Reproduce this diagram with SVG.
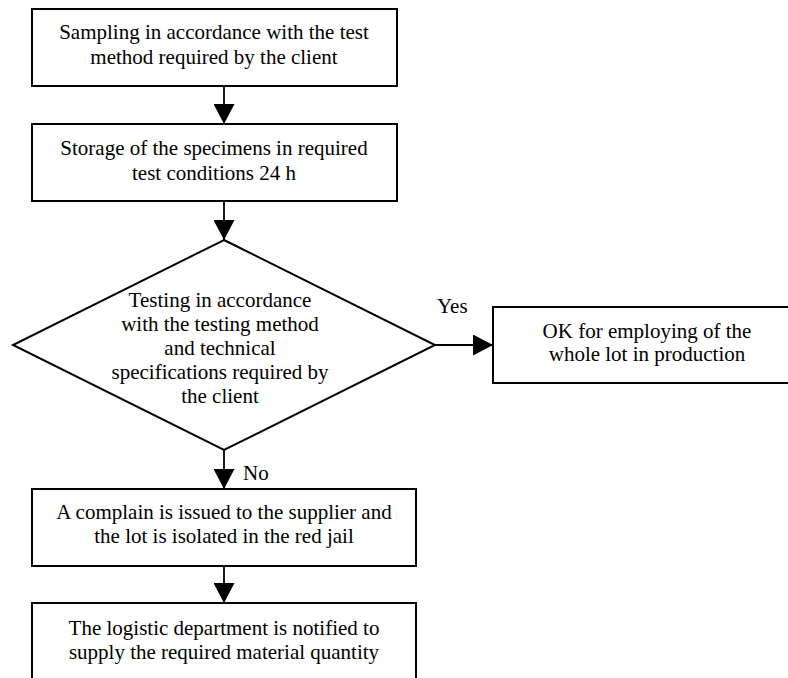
<svg xmlns="http://www.w3.org/2000/svg" width="788" height="678" viewBox="0 0 788 678">
<style>
.box{fill:#fff;stroke:#000;stroke-width:2}
.ln{stroke:#000;stroke-width:1.8;fill:none}
text{font-family:"Liberation Serif","Times New Roman",serif;font-size:21px;fill:#000}
.c{text-anchor:middle}
</style>
<defs>
<marker id="ah" markerUnits="userSpaceOnUse" markerWidth="21" markerHeight="21" refX="20" refY="10.5" orient="auto">
<path d="M0,0 L20,10.5 L0,21 Z" fill="#000"/>
</marker>
</defs>
<rect width="788" height="678" fill="#fff"/>
<g id="connectors">
<line class="ln" x1="224" y1="86" x2="224" y2="124" marker-end="url(#ah)"/>
<line class="ln" x1="224" y1="201" x2="224" y2="240" marker-end="url(#ah)"/>
<line class="ln" x1="435" y1="345" x2="493" y2="345" marker-end="url(#ah)"/>
<line class="ln" x1="224" y1="450" x2="224" y2="489" marker-end="url(#ah)"/>
<line class="ln" x1="224" y1="566" x2="224" y2="603" marker-end="url(#ah)"/>
<text x="437" y="313">Yes</text>
<text x="243" y="480">No</text>
</g>
<g id="n1">
<rect class="box" x="32" y="9" width="365" height="77"/>
<text class="c" x="214" y="39">Sampling in accordance with the test</text>
<text class="c" x="214" y="64">method required by the client</text>
</g>
<g id="n2">
<rect class="box" x="32" y="124" width="365" height="77"/>
<text class="c" x="214" y="155">Storage of the specimens in required</text>
<text class="c" x="214" y="180">test conditions 24 h</text>
</g>
<g id="n3">
<polygon class="box" points="224,240 435,345 224,450 13,345"/>
<text class="c" x="220" y="307">Testing in accordance</text>
<text class="c" x="220" y="331">with the testing method</text>
<text class="c" x="220" y="355">and technical</text>
<text class="c" x="220" y="379">specifications required by</text>
<text class="c" x="220" y="403">the client</text>
</g>
<g id="n4">
<rect class="box" x="493" y="307" width="310" height="76"/>
<text class="c" x="647" y="338">OK for employing of the</text>
<text class="c" x="647" y="361">whole lot in production</text>
</g>
<g id="n5">
<rect class="box" x="32" y="489" width="384" height="77"/>
<text class="c" x="224" y="519">A complain is issued to the supplier and</text>
<text class="c" x="224" y="543">the lot is isolated in the red jail</text>
</g>
<g id="n6">
<rect class="box" x="32" y="603" width="384" height="90"/>
<text class="c" x="224" y="635">The logistic department is notified to</text>
<text class="c" x="224" y="659">supply the required material quantity</text>
</g>
</svg>
